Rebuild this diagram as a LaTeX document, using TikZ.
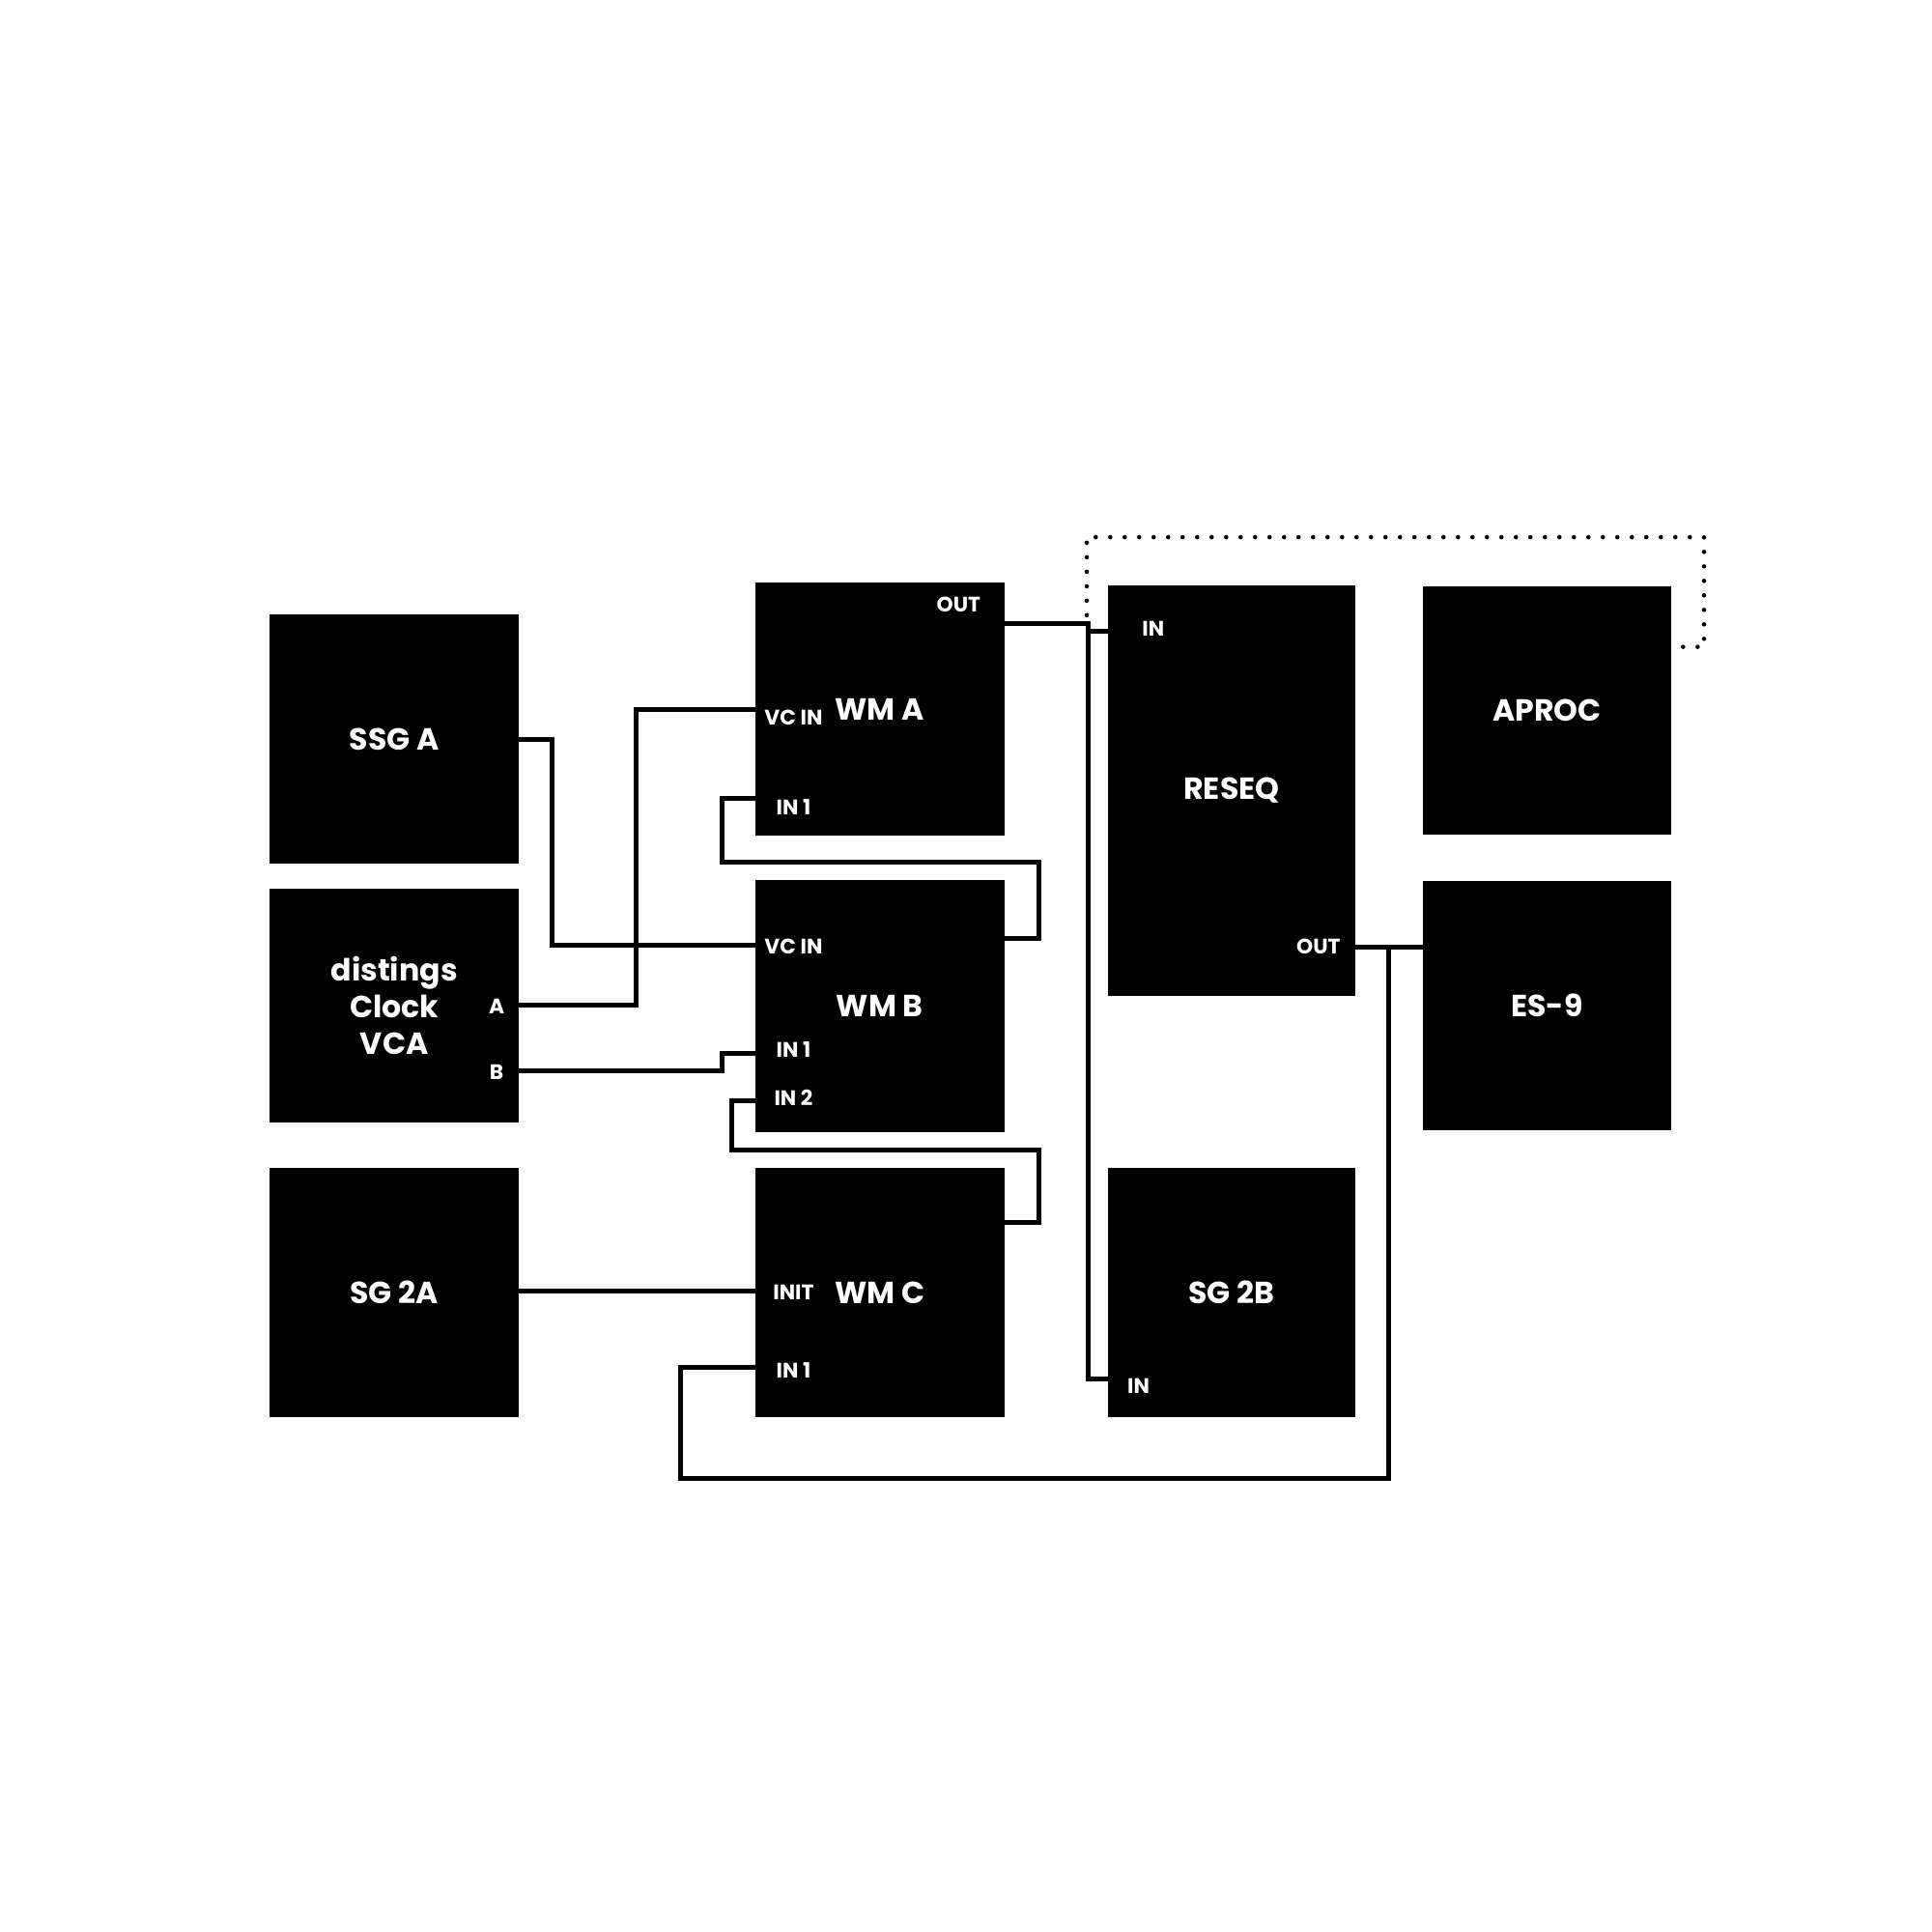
\documentclass[tikz,border=0pt]{standalone}
\usepackage{fontspec}
\setmainfont{Poppins}
\usetikzlibrary{fit}
\begin{document}
\begin{tikzpicture}[x=0.012755cm,y=-0.012755cm,
  box/.style={fill=black, draw=none, inner sep=0pt},
  title/.style={text=white, align=center, inner sep=0pt,
    font=\bfseries\fontsize{9}{10.8}\selectfont},
  port/.style={text=white, inner sep=0pt, font=\bfseries\fontsize{6.2}{7}\selectfont},
  wire/.style={line width=1.4pt, line join=miter},
  dotwire/.style={line width=1.3pt, line cap=round, dash pattern=on 0pt off 1.5mm}]
\useasboundingbox (0,0) rectangle (1568,1568);

% modules
\node[box, fit={(219,499) (421,701)}, label={[title]center:SSG A}] (ssga) {};
\node[box, fit={(219,721) (421,911)}, label={[title]center:distings\\Clock\\VCA}] (dcv) {};
\node[box, fit={(219,948) (421,1150)}, label={[title]center:SG 2A}] (sg2a) {};
\node[box, fit={(613,473) (815,678)}, label={[title]center:WM A}] (wma) {};
\node[box, fit={(613,714) (815,919)}, label={[title]center:WM B}] (wmb) {};
\node[box, fit={(613,948) (815,1150)}, label={[title]center:WM C}] (wmc) {};
\node[box, fit={(899,475) (1100,808)}, label={[title]center:RESEQ}] (reseq) {};
\node[box, fit={(899,948) (1100,1150)}, label={[title]center:SG 2B}] (sg2b) {};
\node[box, fit={(1155,476) (1356,677)}, label={[title]center:APROC}] (aproc) {};
\node[box, fit={(1155,715) (1356,917)}, label={[title]center:ES-9}] (es9) {};

% port labels
\node[port] (lwmaout) at (778,491) {OUT};
\node[port] (lwmavc) at (644,582) {VC IN};
\node[port] (lwmain1) at (644,655) {IN 1};
\node[port] (lwmbvc) at (644,768) {VC IN};
\node[port] (lwmbin1) at (644,852) {IN 1};
\node[port] (lwmbin2) at (644,891) {IN 2};
\node[port] (lwmcinit) at (644,1049) {INIT};
\node[port] (lwmcin1) at (644,1112) {IN 1};
\node[port] (lreseqin) at (936,510) {IN};
\node[port] (lreseqout) at (1070,768) {OUT};
\node[port] (lsg2bin) at (924,1125) {IN};
\node[port] (ldcva) at (403,817) {A};
\node[port] (ldcvb) at (403,870) {B};

% port coordinates
\coordinate (ssga-out) at (421,600);
\coordinate (dcv-a) at (421,816);
\coordinate (dcv-b) at (421,869);
\coordinate (sg2a-out) at (421,1048);
\coordinate (wma-vc) at (613,576);
\coordinate (wma-in1) at (613,648);
\coordinate (wma-out) at (815,506);
\coordinate (wmb-vc) at (613,767);
\coordinate (wmb-in1) at (613,855);
\coordinate (wmb-in2) at (613,893);
\coordinate (wmb-out) at (815,762);
\coordinate (wmc-init) at (613,1048);
\coordinate (wmc-in1) at (613,1110);
\coordinate (wmc-out) at (815,992);
\coordinate (reseq-in) at (899,512);
\coordinate (reseq-out) at (1100,769);
\coordinate (sg2b-in) at (899,1119);
\coordinate (es9-in) at (1155,769);
\coordinate (aproc-out) at (1366,525);
\coordinate (dotend) at (882,500);
\coordinate (split1) at (883,512);
\coordinate (split2) at (1127,769);

% wires
\draw[wire] (ssga-out) -- (448,600) -- (448,767) -- (wmb-vc);
\draw[wire] (dcv-a) -- (516,816) -- (516,576) -- (wma-vc);
\draw[wire] (dcv-b) -- (586,869) -- (586,855) -- (wmb-in1);
\draw[wire] (wma-in1) -- (586,648) -- (586,700) -- (843,700) -- (843,762) -- (wmb-out);
\draw[wire] (wmb-in2) -- (594,893) -- (594,933) -- (843,933) -- (843,992) -- (wmc-out);
\draw[wire] (sg2a-out) -- (wmc-init);
\draw[wire] (wma-out) -- (883,506) -- (883,1119) -- (sg2b-in);
\draw[wire] (split1) -- (reseq-in);
\draw[wire] (reseq-out) -- (es9-in);
\draw[wire] (split2) -- (1127,1200) -- (552,1200) -- (552,1110) -- (wmc-in1);
\draw[dotwire] (aproc-out) -- (1383,525) -- (1383,436) -- (882,436) -- (dotend);
\end{tikzpicture}
\end{document}
